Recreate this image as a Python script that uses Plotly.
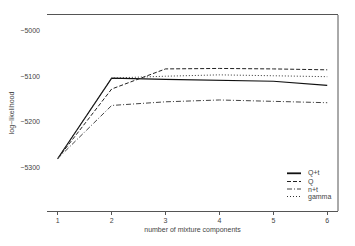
import plotly.graph_objects as go

components = [1, 2, 3, 4, 5, 6]
series_names = ["Q+t", "Q", "n+t", "gamma"]
qt = [-5280, -5104, -5107, -5109, -5111, -5120]
q = [-5280, -5128, -5084, -5083, -5084, -5086]
nt = [-5280, -5164, -5156, -5152, -5155, -5158]
gamma = [-5280, -5104, -5100, -5097, -5099, -5101]
y_ticks = [-5000, -5100, -5200, -5300]

series = [qt, q, nt, gamma]
dashes = ["solid", "4px,2px", "5px,2px,1px,2px", "1px,2px"]
colors = ["#111111", "#222222", "#444444", "#333333"]
widths = [1.2, 1, 1, 1]

fig = go.Figure()
for name, ys, d, c, w in zip(series_names, series, dashes, colors, widths):
    fig.add_trace(go.Scatter(x=components, y=ys, mode="lines", name=name,
                             line=dict(color=c, dash=d, width=w),
                             showlegend=False))

font = dict(family="Liberation Sans, Arial, sans-serif", size=7, color="#444444")

# manual compact legend (positions relative to plot area)
L, W, B, H = 47, 291, 211, 196
leg_y = [173.3, 181.5, 189, 196.5]
for name, d, c, w, py in zip(series_names, dashes, colors, widths, leg_y):
    yp = (B - py) / H
    fig.add_shape(type="line", xref="paper", yref="paper",
                  x0=(287 - L) / W, x1=(301 - L) / W, y0=yp, y1=yp,
                  line=dict(color=c, dash=d, width=w + (0.6 if d == "solid" else 0)))
    fig.add_annotation(text=name, xref="paper", yref="paper",
                       x=(306 - L) / W, y=yp, xanchor="left", yanchor="middle",
                       showarrow=False, font=font)

# right border
fig.add_shape(type="line", xref="paper", yref="paper", x0=1, x1=1, y0=0, y1=1,
              line=dict(color="#555555", width=1))

# page body has an 8px margin, so margins are reduced by 8px on left/top
fig.update_layout(
    width=355, height=246,
    margin=dict(l=39, r=25, t=7, b=43, autoexpand=False),
    paper_bgcolor="white", plot_bgcolor="white",
    font=font,
    xaxis=dict(range=[0.8, 6.2], tickvals=components, showgrid=False, zeroline=False,
               showline=True, mirror=True, linecolor="#555555", linewidth=1,
               ticks="outside", ticklen=3, tickcolor="#555555", automargin=False,
               title=dict(text="number of mixture components", font=font, standoff=3)),
    yaxis=dict(range=[-5395, -4966], tickvals=y_ticks,
               ticktext=[str(v).replace("-", "\u2212") for v in y_ticks],
               showgrid=False, zeroline=False, showline=False, ticks="",
               ticklabelstandoff=6, automargin=False,
               title=dict(text="log\u2212likelihood", font=font, standoff=6)),
)

fig.write_html("out.html")
